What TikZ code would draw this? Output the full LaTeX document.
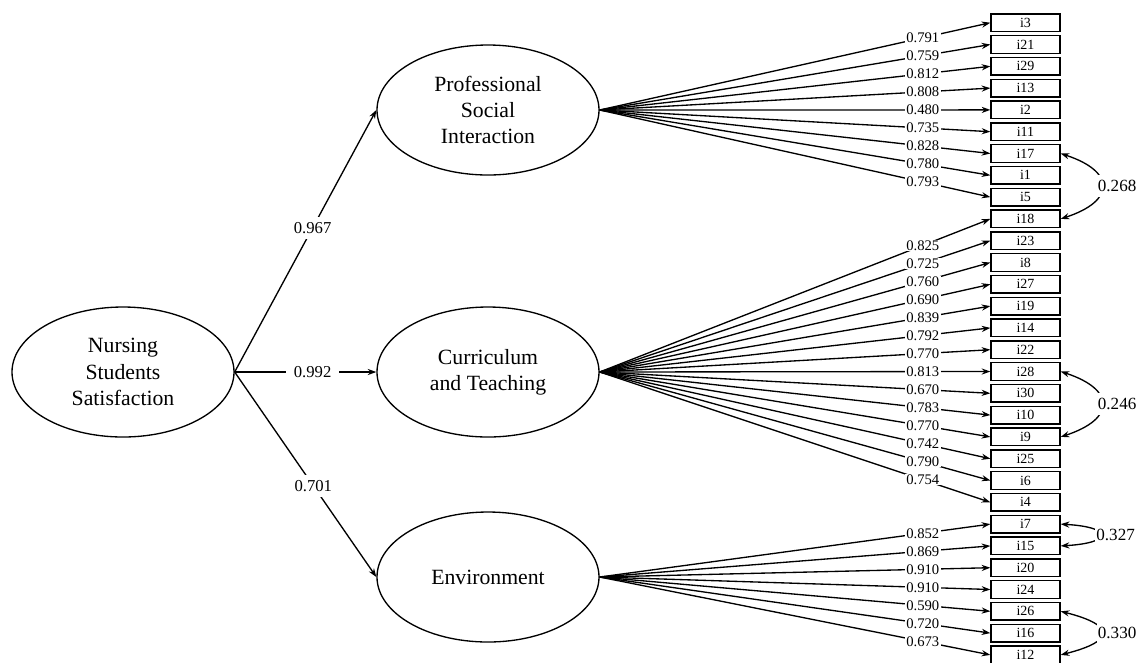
\documentclass[tikz,border=0pt]{standalone}
\usepackage{fontspec}
\setmainfont{Liberation Serif}
\usetikzlibrary{arrows.meta,shapes.geometric}
\begin{document}
\begin{tikzpicture}[x=0.75pt,y=-0.75pt,
  lat/.style={draw,ellipse,line width=1pt,minimum width=166.5pt,minimum height=97.5pt,inner sep=0pt,align=center,font=\fontsize{16.3}{19.7}\selectfont},
  ind/.style={draw,rectangle,line width=1pt,minimum width=51.75pt,minimum height=13.2pt,inner sep=0pt,font=\fontsize{10.5}{11}\selectfont},
  tip/.tip={Stealth[length=6.5pt,width=4.6pt]},
  ld/.style={line width=1pt,-tip},
  lab/.style={fill=white,inner xsep=1pt,inner ysep=0.5pt,font=\fontsize{11}{12}\selectfont},
  mlab/.style={fill=white,inner xsep=6pt,inner ysep=4pt,font=\fontsize{12.5}{13}\selectfont},
  cov/.style={line width=1pt,tip-tip},
  clab/.style={fill=white,inner xsep=1pt,inner ysep=4pt,anchor=west,xshift=-4.5pt,font=\fontsize{12.8}{13}\selectfont}
]
\useasboundingbox (0,0) rectangle (1137,662);

% latent variables
\node[lat] (NSS) at (123,372) {Nursing\\Students\\Satisfaction};
\node[lat] (PSI) at (488,110) {Professional\\Social\\Interaction};
\node[lat] (CT)  at (488,372) {Curriculum\\and Teaching};
\node[lat] (ENV) at (488,577) {Environment};

% indicators
\foreach \n [count=\k from 0] in {i3,i21,i29,i13,i2,i11,i17,i1,i5,i18,i23,i8,i27,i19,i14,i22,i28,i30,i10,i9,i25,i6,i4,i7,i15,i20,i24,i26,i16,i12}
  \node[ind] (\n) at (1025.5,{22.7+21.8*\k}) {\n};

% second-order paths
\draw[ld] (NSS.east) -- (PSI.west) node[mlab,pos=0.55] {0.967};
\draw[ld] (NSS.east) -- (CT.west)  node[mlab,pos=0.55] {0.992};
\draw[ld] (NSS.east) -- (ENV.west) node[mlab,pos=0.555] {0.701};

% loadings
\foreach \t/\v in {i3/0.791,i21/0.759,i29/0.812,i13/0.808,i2/0.480,i11/0.735,i17/0.828,i1/0.780,i5/0.793}
  \draw[ld] (PSI.east) -- (\t.west) node[lab,pos=0.827] {\v};
\foreach \t/\v in {i18/0.825,i23/0.725,i8/0.760,i27/0.690,i19/0.839,i14/0.792,i22/0.770,i28/0.813,i30/0.670,i10/0.783,i9/0.770,i25/0.742,i6/0.790,i4/0.754}
  \draw[ld] (CT.east) -- (\t.west) node[lab,pos=0.827] {\v};
\foreach \t/\v in {i7/0.852,i15/0.869,i20/0.910,i24/0.910,i26/0.590,i16/0.720,i12/0.673}
  \draw[ld] (ENV.east) -- (\t.west) node[lab,pos=0.827] {\v};

% error covariances
\draw[cov] (i17.east) .. controls +(55,18) and +(55,-18) .. (i18.east) node[clab,pos=0.5] {0.268};
\draw[cov] (i28.east) .. controls +(55,18) and +(55,-18) .. (i9.east)  node[clab,pos=0.5] {0.246};
\draw[cov] (i7.east)  .. controls +(53,3) and +(53,-3) .. (i15.east)   node[clab,pos=0.5] {0.327};
\draw[cov] (i26.east) .. controls +(55,14) and +(55,-14) .. (i12.east) node[clab,pos=0.5] {0.330};
\end{tikzpicture}
\end{document}
